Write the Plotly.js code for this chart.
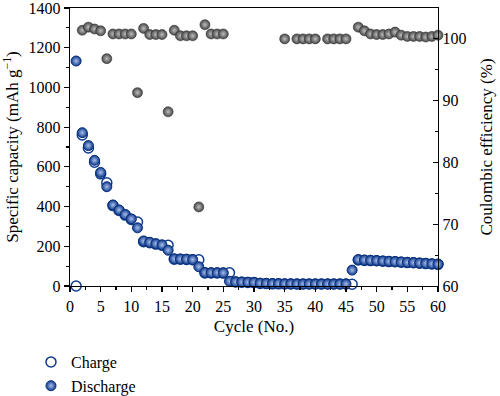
<!DOCTYPE html>
<html>
<head>
<meta charset="utf-8">
<script src="https://cdn.plot.ly/plotly-3.0.1.min.js"></script>
<style>html,body{margin:0;padding:0;background:#fff;}#chart{width:500px;height:396px;}</style>
</head>
<body>
<div id="chart"></div>
<script>
var cycles = [1,2,3,4,5,6,7,8,9,10,11,12,13,14,15,16,17,18,19,20,
  21,22,23,24,25,26,27,28,29,30,31,32,33,34,35,36,37,38,39,40,
  41,42,43,44,45,46,47,48,49,50,51,52,53,54,55,56,57,58,59,60];

var discharge = [1133,772,707,633,572,500,408,383,360,338,
  293,227,220,213,207,180,137,136,135,133,
  97,68,67,67,66,24,21,20,19,18,
  14,13,12,12,11,11,10,10,10,10,
  10,10,10,10,10,80,133,131,129,128,
  126,124,123,121,119,118,116,114,112,110];

var charge = [0,761,695,623,565,520,405,380,357,335,
  322,223,218,211,205,205,135,135,134,132,
  132,66,66,66,65,67,20,19,18,17,
  13,12,11,11,10,10,10,10,10,10,
  10,10,10,10,10,9,131,129,128,127,
  125,123,122,120,118,117,115,113,111,109];

var efficiency = [null,101.4,101.9,101.6,101.3,96.8,100.8,100.8,100.8,100.8,
  91.3,101.7,100.7,100.7,100.7,88.2,101.4,100.5,100.5,100.5,
  72.8,102.3,100.8,100.8,100.8,null,null,null,null,null,
  null,null,null,null,100.0,null,100.0,100.0,100.0,100.0,
  null,100.0,100.0,100.0,100.0,null,101.9,101.3,100.8,100.7,
  100.7,100.8,101.1,100.6,100.4,100.4,100.4,100.3,100.4,100.6];

var FONT = "Liberation Serif, Times New Roman, serif";
var BLUE = "#0f3b8e";

var traces = [
  {
    x: cycles, y: charge, name: "Charge", type: "scatter", mode: "markers",
    cliponaxis: false,
    marker: {symbol: "circle", size: 10, color: "#ffffff", line: {color: BLUE, width: 1.5}}
  },
  {
    x: cycles, y: discharge, name: "Discharge", type: "scatter", mode: "markers",
    cliponaxis: false,
    marker: {symbol: "circle", size: 10, color: BLUE,
      gradient: {type: "radial", color: "#a9bfea"},
      line: {color: "#0a2f7a", width: 1}}
  },
  {
    x: cycles, y: efficiency, name: "Coulombic efficiency", type: "scatter", mode: "markers",
    yaxis: "y2", showlegend: false, cliponaxis: false,
    marker: {symbol: "circle", size: 10, color: "#474747",
      gradient: {type: "radial", color: "#bdbdbd"},
      line: {color: "#333333", width: 0.6}}
  }
];

var layout = {
  width: 500, height: 396,
  margin: {l: 70, r: 62, t: 8, b: 110},
  paper_bgcolor: "#ffffff", plot_bgcolor: "#ffffff",
  font: {family: FONT, size: 16, color: "#000"},
  showlegend: true,
  legend: {x: -0.106, xref: "paper", y: 0.1288, yref: "container",
    xanchor: "left", yanchor: "top",
    font: {family: FONT, size: 16, color: "#000"}, bgcolor: "rgba(0,0,0,0)",
    tracegroupgap: 0},
  xaxis: {
    range: [0, 60], tickmode: "linear", tick0: 0, dtick: 5, automargin: false,
    ticks: "outside", ticklen: 5, tickwidth: 1.2, tickcolor: "#000",
    showline: true, linecolor: "#000", linewidth: 1.3, mirror: true,
    showgrid: false, zeroline: false, ticklabeloverflow: "allow",
    minor: {dtick: 2.5, ticks: "outside", ticklen: 3, tickcolor: "#000", showgrid: false},
    tickfont: {family: FONT, size: 16},
    title: {text: "Cycle (No.)", font: {family: FONT, size: 17}, standoff: 6}
  },
  yaxis: {
    range: [0, 1400], tickmode: "linear", tick0: 0, dtick: 200, automargin: false,
    ticks: "outside", ticklen: 5, tickwidth: 1.2, tickcolor: "#000",
    showline: true, linecolor: "#000", linewidth: 1.3,
    showgrid: false, zeroline: false, ticklabeloverflow: "allow",
    minor: {dtick: 100, ticks: "outside", ticklen: 3, tickcolor: "#000", showgrid: false},
    tickfont: {family: FONT, size: 16},
    title: {text: "Specific capacity (mAh g<sup>−1</sup>)", font: {family: FONT, size: 17}, standoff: 5}
  },
  yaxis2: {
    overlaying: "y", side: "right", automargin: false,
    range: [60, 105], tickvals: [60, 70, 80, 90, 100],
    ticks: "inside", ticklen: 5, tickwidth: 1.2, tickcolor: "#000",
    showline: true, linecolor: "#000", linewidth: 1.3,
    showgrid: false, zeroline: false, ticklabeloverflow: "allow",
    minor: {tickvals: [65, 75, 85, 95], ticks: "inside", ticklen: 3, tickcolor: "#000", showgrid: false},
    tickfont: {family: FONT, size: 16},
    title: {text: "Coulombic efficiency (%)", font: {family: FONT, size: 17}, standoff: 14}
  }
};

Plotly.newPlot("chart", traces, layout, {displayModeBar: false, staticPlot: true});
</script>
</body>
</html>
